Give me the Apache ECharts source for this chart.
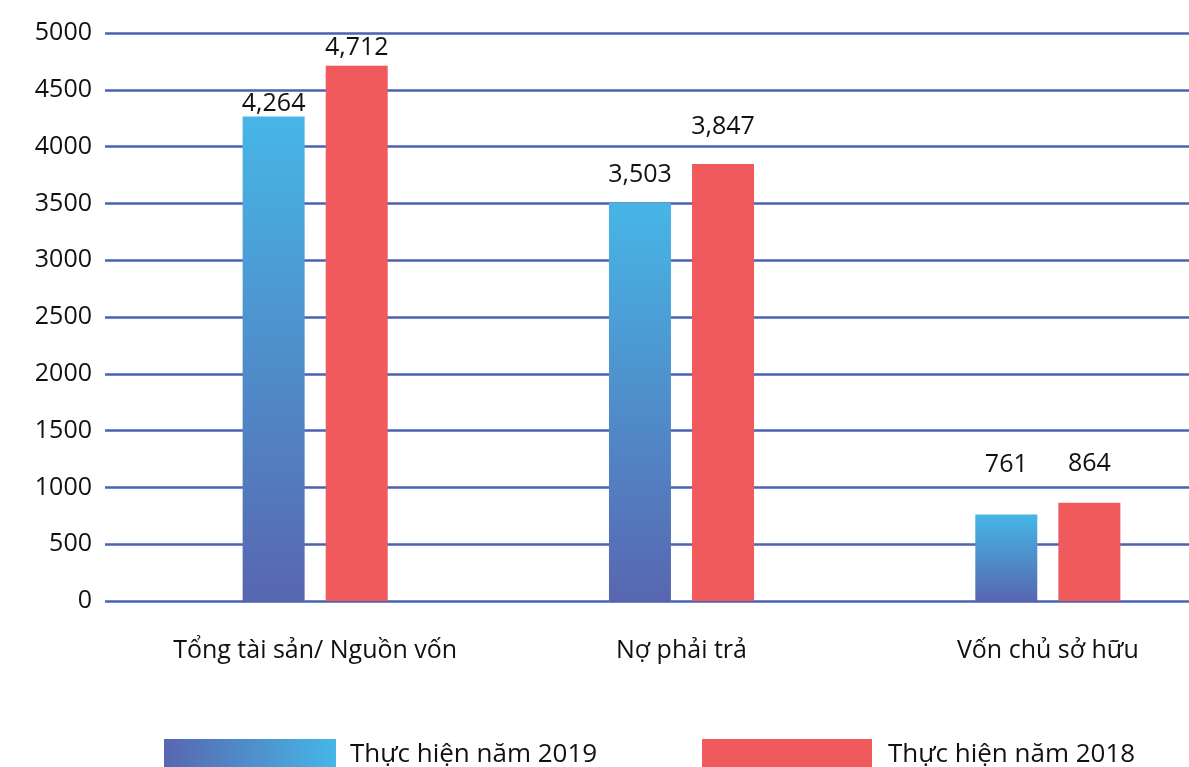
<!DOCTYPE html>
<html>
<head>
<meta charset="utf-8">
<script src="https://cdn.jsdelivr.net/npm/echarts@6/dist/echarts.min.js"></script>
<style>
  html, body { margin: 0; padding: 0; background: #fff; }
  #chart { width: 1189px; height: 767px; }
</style>
</head>
<body>
<div id="chart"></div>
<script>
var categories = ["Tổng tài sản/ Nguồn vốn", "Nợ phải trả", "Vốn chủ sở hữu"];
var values2019 = [4264, 3503, 761];
var values2018 = [4712, 3847, 864];
var yTicks = [0, 500, 1000, 1500, 2000, 2500, 3000, 3500, 4000, 4500, 5000];

// khoảng cách nhãn so với đỉnh cột (giống ảnh gốc)
var gap2019 = [0, 16, 37];
var gap2018 = [5, 25, 26];

var FONT = "Open Sans";
var lineColor = "#4a62b0";

var blueGrad = new echarts.graphic.LinearGradient(0, 0, 0, 1, [
  { offset: 0, color: "#46b6e6" },
  { offset: 1, color: "#5866b0" }
]);
var blueGradH = new echarts.graphic.LinearGradient(0, 0, 1, 0, [
  { offset: 0, color: "#5866b0" },
  { offset: 1, color: "#46b6e6" }
]);

function withLabels(vals, gaps) {
  return vals.map(function (v, i) {
    return { value: v, label: { distance: gaps[i] } };
  });
}

var chart = echarts.init(document.getElementById("chart"));
chart.setOption({
  animation: false,
  grid: [
    { left: 105, right: 0, top: 33, bottom: 166, outerBoundsMode: "none" },
    { left: 132, right: -42, top: 33, bottom: 166, outerBoundsMode: "none" }
  ],
  legend: [
    {
      left: 159, top: 734, itemWidth: 172, itemHeight: 32, icon: "rect",
      data: [{ name: "Thực hiện năm 2019", itemStyle: { color: blueGradH } }],
      textStyle: { fontFamily: FONT, fontSize: 26, color: "#111", padding: [0, 0, 0, 9] }
    },
    {
      left: 697, top: 734, itemWidth: 170, itemHeight: 32, icon: "rect",
      data: ["Thực hiện năm 2018"],
      textStyle: { fontFamily: FONT, fontSize: 26, color: "#111", padding: [0, 0, 0, 11] }
    }
  ],
  xAxis: [
    { type: "category", gridIndex: 0, data: [], show: false },
    {
      type: "category", gridIndex: 1, data: categories,
      axisLine: { show: false }, axisTick: { show: false },
      axisLabel: { interval: 0, fontFamily: FONT, fontSize: 25, color: "#111", margin: 37 }
    }
  ],
  yAxis: [
    {
      type: "value", gridIndex: 0, min: 0, max: 5000, interval: 500,
      axisLine: { show: false }, axisTick: { show: false },
      axisLabel: {
        fontFamily: FONT, fontSize: 25, color: "#111", margin: 13,
        formatter: function (v) { return yTicks.indexOf(v) >= 0 ? String(v) : ""; }
      },
      splitLine: { show: true, lineStyle: { color: lineColor, width: 2.5 } }
    },
    { type: "value", gridIndex: 1, min: 0, max: 5000, interval: 500, show: false }
  ],
  series: [
    {
      name: "Thực hiện năm 2019", type: "bar", xAxisIndex: 1, yAxisIndex: 1,
      barWidth: 62, barGap: "34%",
      itemStyle: { color: blueGrad },
      label: {
        show: true, position: "top", fontFamily: FONT, fontSize: 25, color: "#111",
        formatter: function (p) { return p.value.toLocaleString("en-US"); }
      },
      data: withLabels(values2019, gap2019)
    },
    {
      name: "Thực hiện năm 2018", type: "bar", xAxisIndex: 1, yAxisIndex: 1,
      barWidth: 62, barGap: "34%",
      itemStyle: { color: "#f05a5c" },
      label: {
        show: true, position: "top", fontFamily: FONT, fontSize: 25, color: "#111",
        formatter: function (p) { return p.value.toLocaleString("en-US"); }
      },
      data: withLabels(values2018, gap2018)
    }
  ]
});
</script>
</body>
</html>
